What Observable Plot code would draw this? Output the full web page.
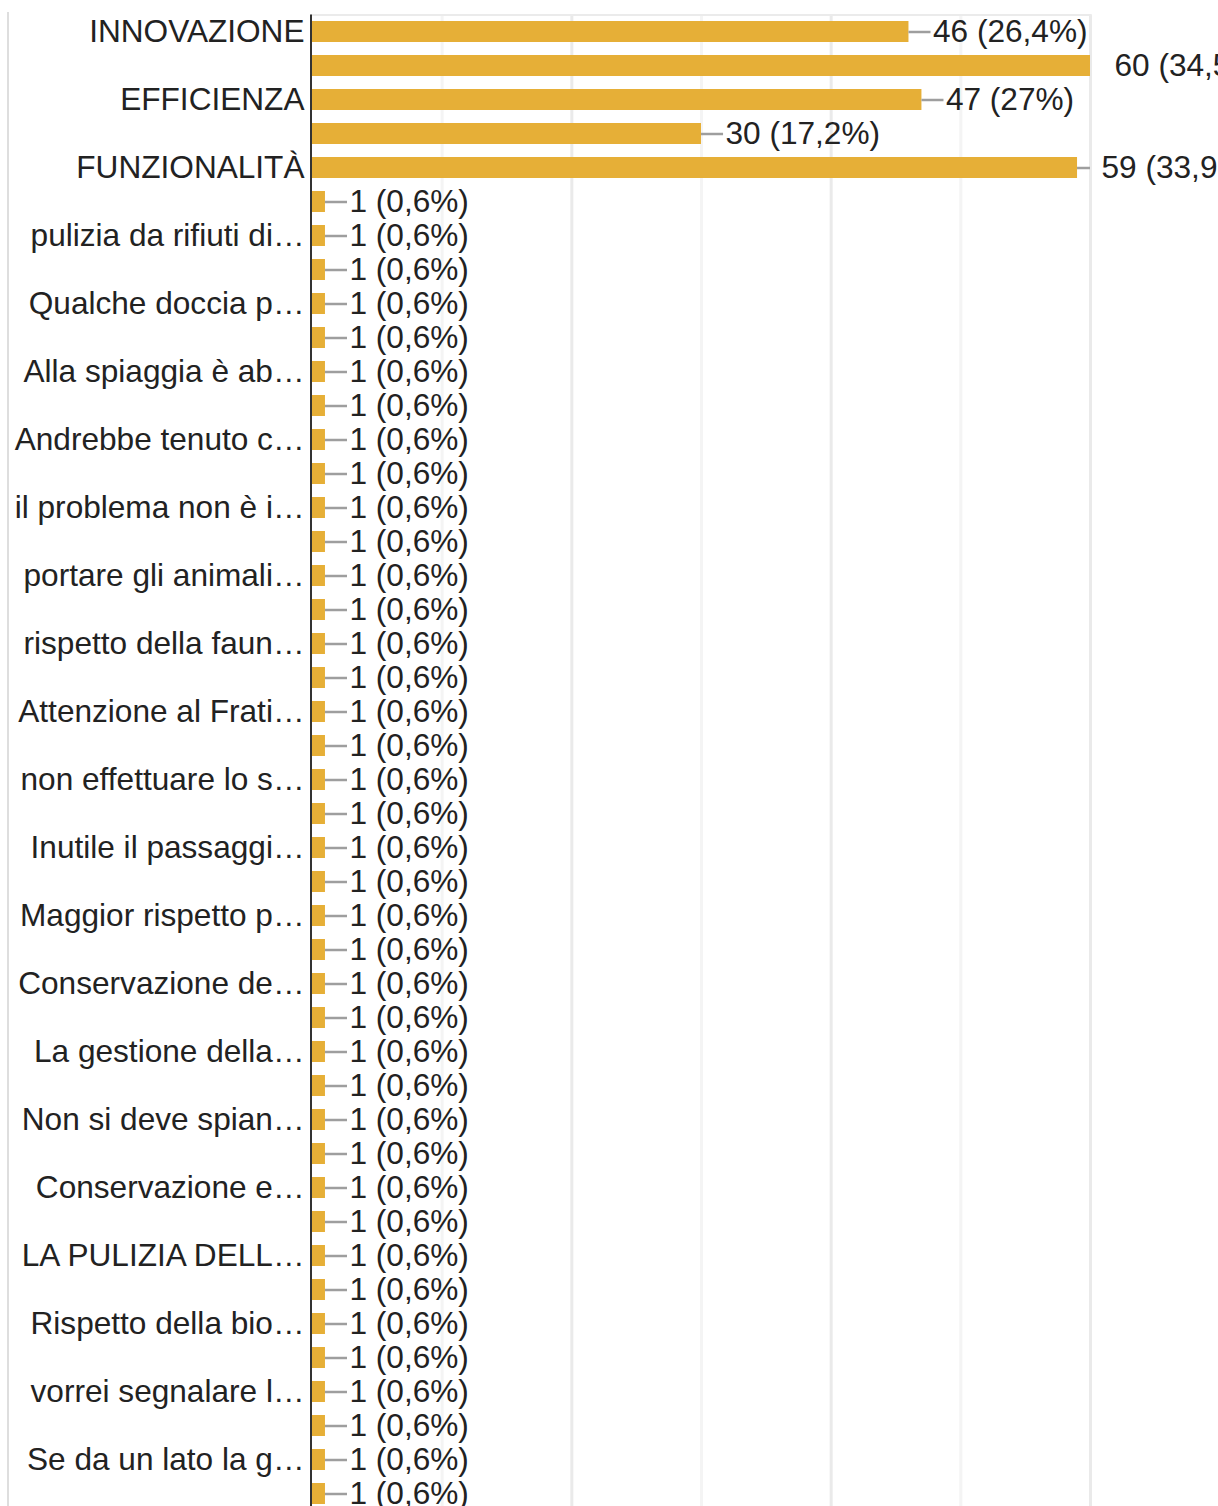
<!DOCTYPE html>
<html>
<head>
<meta charset="utf-8">
<script src="https://cdn.jsdelivr.net/npm/d3@7"></script>
<script src="https://cdn.jsdelivr.net/npm/@observablehq/plot@0.6"></script>
<style>
  html, body { margin: 0; padding: 0; background: #fff; overflow: hidden; }
  #wrap { position: relative; width: 1218px; height: 1506px; overflow: hidden; }
  #card { position: absolute; left: 7px; top: 12px; bottom: 0; width: 1.5px; background: #dedede; }
  #chart { position: absolute; left: 0; top: 0; }
</style>
</head>
<body>
<div id="wrap"><div id="card"></div><div id="chart"></div></div>
<script>
// Category labels as shown (every other label is hidden in the original; unknown ones are null)
const categories = [
  "INNOVAZIONE", null, "EFFICIENZA", null, "FUNZIONALITÀ", null,
  "pulizia da rifiuti di…", null, "Qualche doccia p…", null,
  "Alla spiaggia è ab…", null, "Andrebbe tenuto c…", null,
  "il problema non è i…", null, "portare gli animali…", null,
  "rispetto della faun…", null, "Attenzione al Frati…", null,
  "non effettuare lo s…", null, "Inutile il passaggi…", null,
  "Maggior rispetto p…", null, "Conservazione de…", null,
  "La gestione della…", null, "Non si deve spian…", null,
  "Conservazione e…", null, "LA PULIZIA DELL…", null,
  "Rispetto della bio…", null, "vorrei segnalare l…", null,
  "Se da un lato la g…", null
];
// Counts per row
const values = [
  46, 60, 47, 30, 59, 1,
  1, 1, 1, 1, 1, 1, 1, 1, 1, 1, 1, 1, 1, 1, 1, 1, 1, 1, 1, 1,
  1, 1, 1, 1, 1, 1, 1, 1, 1, 1, 1, 1, 1, 1, 1, 1, 1, 1
];
// Percentages per row
const percents = [
  26.4, 34.5, 27, 17.2, 33.9, 0.6,
  0.6, 0.6, 0.6, 0.6, 0.6, 0.6, 0.6, 0.6, 0.6, 0.6, 0.6, 0.6, 0.6, 0.6, 0.6, 0.6, 0.6, 0.6, 0.6, 0.6,
  0.6, 0.6, 0.6, 0.6, 0.6, 0.6, 0.6, 0.6, 0.6, 0.6, 0.6, 0.6, 0.6, 0.6, 0.6, 0.6, 0.6, 0.6
];
const minorGrid = [10, 30, 50];
const majorGrid = [20, 40, 60];

const rows = values.map((v, i) => ({
  i, value: v,
  label: `${v} (${String(percents[i]).replace(".", ",")}%)`
}));

const LEADER = 1.7; // leader line length in data units
const barColor = "#e6af37";

const chart = Plot.plot({
  width: 1218,
  height: 1550,
  marginLeft: 312,
  marginRight: 128,
  marginTop: 14.5,
  marginBottom: 39.5,
  style: {fontFamily: "'Liberation Sans', Arial, sans-serif", fontSize: "31.6px", color: "#222", background: "transparent", overflow: "visible"},
  x: {domain: [0, 60], axis: null, label: null},
  y: {domain: rows.map(d => d.i), paddingInner: 0.38, paddingOuter: 0.19, axis: null, label: null},
  marks: [
    Plot.gridX({ticks: minorGrid, stroke: "#f4f4f4", strokeOpacity: 1, strokeWidth: 3}),
    Plot.gridX({ticks: majorGrid, stroke: "#eaeaea", strokeOpacity: 1, strokeWidth: 3}),
    Plot.frame({anchor: "top", stroke: "#ebebeb", strokeWidth: 2}),
    Plot.barX(rows, {y: "i", x: "value", fill: barColor}),
    Plot.ruleY(rows, {y: "i", x1: "value", x2: d => d.value + LEADER, stroke: "#9e9e9e", strokeWidth: 2.5, clip: true}),
    Plot.text(rows, {y: "i", x: "value", text: "label", dx: 24, textAnchor: "start", fill: "#222"}),
    Plot.axisY({tickSize: 0, tickPadding: 8, label: null, tickFormat: i => categories[i] ?? "", fill: "#222"}),
    Plot.ruleX([0], {stroke: "#333", strokeWidth: 2, dx: -1.5})
  ]
});
document.getElementById("chart").append(chart);
</script>
</body>
</html>
